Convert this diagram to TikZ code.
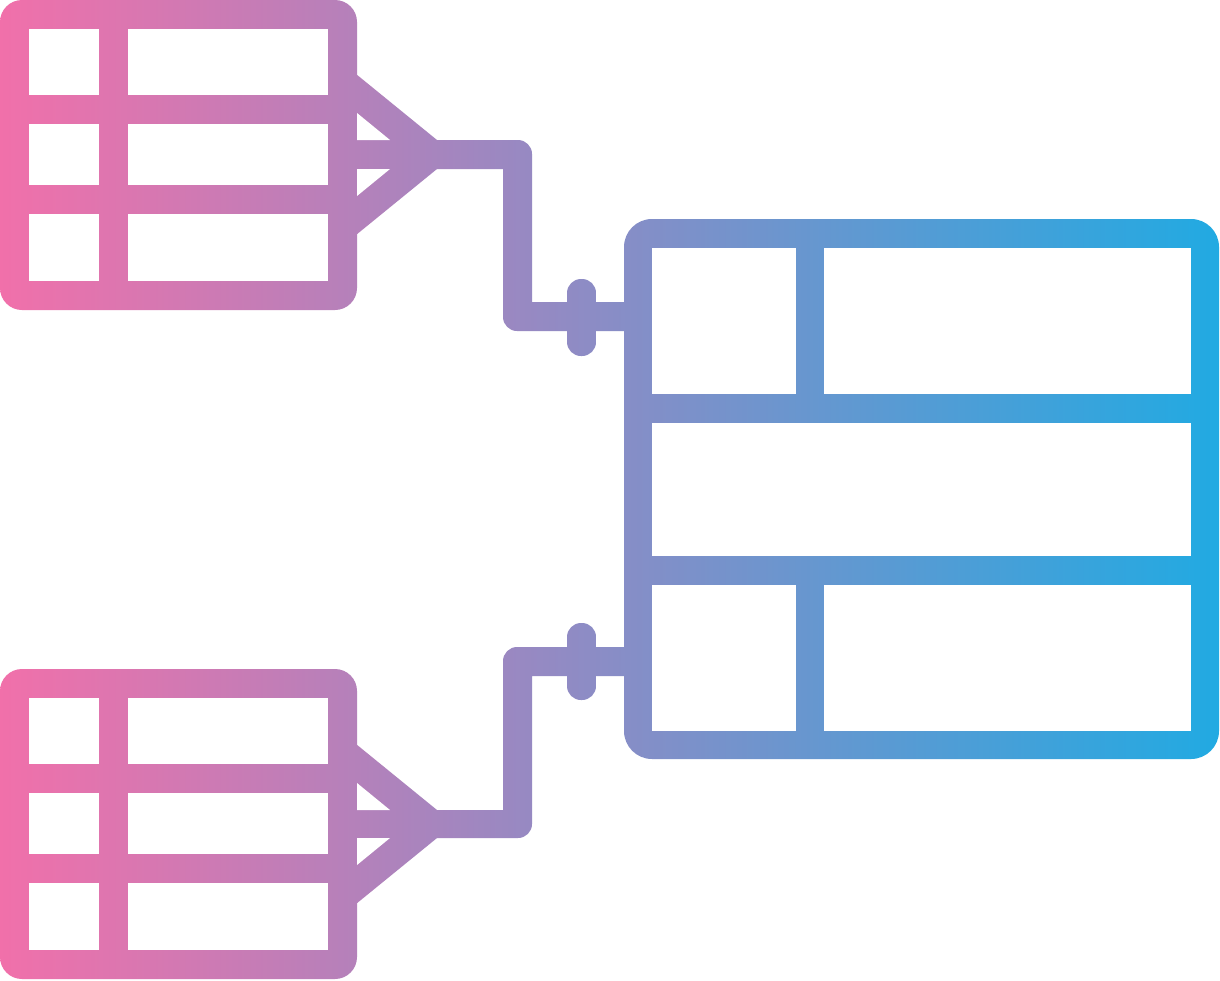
\documentclass[tikz,border=0pt]{standalone}
\definecolor{pk}{HTML}{F170AA}
\definecolor{bl}{HTML}{21AAE2}
\tikzset{grad/.style={left color=pk,right color=bl},hole/.style={fill=white}}
\newcommand\gpiece[1]{\begin{scope}\clip #1;\shade[grad] (0,0) rectangle (1220,980);\end{scope}}
\begin{document}
\begin{tikzpicture}[x=1pt,y=-1pt]
\fill[white] (0,0) rectangle (1220,980);
\useasboundingbox (0,0) rectangle (1220,980);
% ---------- solids ----------
% top-left table
\gpiece{[rounded corners=22pt] (0,0) rectangle (357,310)}
% top crow foot
\gpiece{(340,61) -- (437,140) -- (437,169) -- (340,248) -- cycle}
% top connector
\gpiece{(420,140) -- (518,140) .. controls (525.7,140) and (532,146.3) .. (532,154) -- (532,302) -- (640,302) -- (640,331) -- (517,331) .. controls (509.3,331) and (503,324.7) .. (503,317) -- (503,169) -- (420,169) -- cycle}
% top bar
\gpiece{[rounded corners=14pt] (567,279) rectangle (596,356)}
% big table
\gpiece{[rounded corners=28pt] (624,219) rectangle (1219,759)}
% bottom connector
\gpiece{(640,647) -- (517,647) .. controls (509.3,647) and (503,653.3) .. (503,661) -- (503,810) -- (420,810) -- (420,838) -- (518,838) .. controls (525.7,838) and (532,831.7) .. (532,824) -- (532,676) -- (640,676) -- cycle}
% bottom bar
\gpiece{[rounded corners=14pt] (567,623) rectangle (596,700)}
% bottom crow foot
\gpiece{(340,731) -- (437,810) -- (437,838) -- (340,917) -- cycle}
% bottom-left table
\gpiece{[rounded corners=22pt] (0,669) rectangle (357,979)}
% ---------- holes ----------
% top-left table cells
\foreach \ya/\yb in {29/95,124/185,214/281}{
  \fill[hole] (29,\ya) rectangle (99,\yb);
  \fill[hole] (128,\ya) rectangle (328,\yb);
}
% bottom-left table cells
\foreach \ya/\yb in {698/764,793/854,883/950}{
  \fill[hole] (29,\ya) rectangle (99,\yb);
  \fill[hole] (128,\ya) rectangle (328,\yb);
}
% crow foot holes
\fill[hole] (357,113) -- (390,140) -- (357,140) -- cycle;
\fill[hole] (357,169) -- (390,169) -- (357,196) -- cycle;
\fill[hole] (357,783) -- (390,810) -- (357,810) -- cycle;
\fill[hole] (357,838) -- (390,838) -- (357,865) -- cycle;
% big table cells
\fill[hole] (652,248) rectangle (796,394);
\fill[hole] (824,248) rectangle (1191,394);
\fill[hole] (652,423) rectangle (1191,556);
\fill[hole] (652,585) rectangle (796,731);
\fill[hole] (824,585) rectangle (1191,731);
\end{tikzpicture}
\end{document}
